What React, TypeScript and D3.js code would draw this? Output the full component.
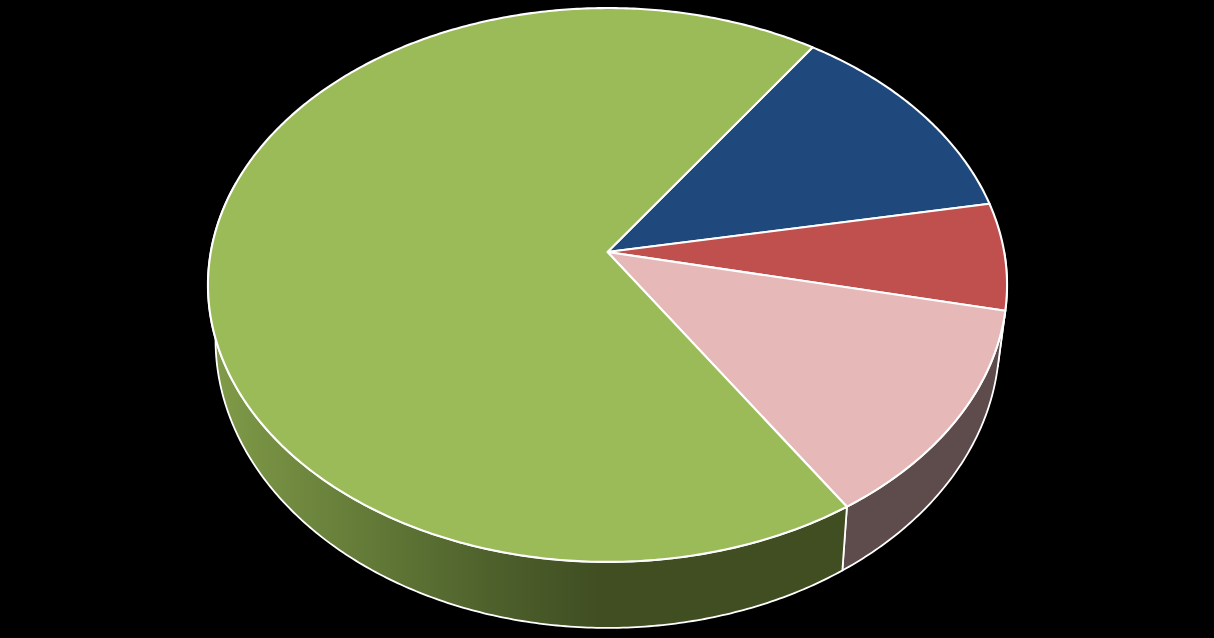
import React from "react";
import * as d3 from "d3";

const categories = ["A", "B", "C", "D"];
const values = [12.5, 6.25, 12.5, 68.75];
const topColors = ["#1f497d", "#c0504d", "#e6b9b8", "#9bbb59"];
const wallColors = ["#0f2440", "#602826", "#5d4c4b", "url(#greenWall)"];
const START_DEG = 34.6;

const W = 1214;
const H = 638;
const CX = 607.5;
const Y0 = 252;
const A = 396.7;
const B = 273;
const PERSP = -0.1191;
const WALL_SCALE_X = 0.981;
const WALL_SCALE_Y = 1.04;
const WALL_Y0 = 305.6;

const project = (a: number): [number, number] => {
  const u = Math.sin(a);
  const v = -Math.cos(a);
  const w = 1 + PERSP * v;
  return [CX + (A * u) / w, Y0 + (B * v) / w];
};
const projectLow = (a: number): [number, number] => {
  const [x, y] = project(a);
  return [CX + WALL_SCALE_X * (x - CX), WALL_Y0 + WALL_SCALE_Y * (y - Y0)];
};
const sample = (a0: number, a1: number) => {
  const n = Math.max(2, Math.ceil(Math.abs(a1 - a0) / 0.01));
  return d3.range(n + 1).map((i) => a0 + ((a1 - a0) * i) / n);
};

const line = d3.line<[number, number]>().curve(d3.curveLinear);
const start = (START_DEG * Math.PI) / 180;
const arcs = d3
  .pie<number>()
  .sort(null)
  .startAngle(start)
  .endAngle(start + 2 * Math.PI)(values);

const WALL_FROM = Math.PI / 2;
const WALL_TO = (285 * Math.PI) / 180;

export default function App() {
  const walls = arcs
    .map((d, i) => {
      const a0 = Math.max(d.startAngle, WALL_FROM);
      const a1 = Math.min(d.endAngle, WALL_TO);
      if (a1 <= a0) return null;
      const pts = sample(a0, a1);
      const path = [...pts.map(project), ...pts.slice().reverse().map(projectLow)];
      return { i, d: line(path) + "Z" };
    })
    .filter(Boolean) as { i: number; d: string }[];

  return (
    <svg
      width={W}
      height={H}
      viewBox={`0 0 ${W} ${H}`}
      style={{ position: "fixed", left: 0, top: 0, background: "#000", display: "block" }}
    >
      <defs>
        <linearGradient id="greenWall" gradientUnits="userSpaceOnUse" x1={208} x2={600} y1={0} y2={0}>
          <stop offset="0" stopColor="#819c49" />
          <stop offset="0.35" stopColor="#677f3a" />
          <stop offset="0.72" stopColor="#4e612c" />
          <stop offset="1" stopColor="#404e22" />
        </linearGradient>
      </defs>
      <rect width={W} height={H} fill="#000" />
      {walls.map((w) => (
        <path
          key={categories[w.i]}
          d={w.d}
          fill={wallColors[w.i]}
          stroke="#fff"
          strokeWidth={1.8}
          strokeLinejoin="round"
        />
      ))}
      {arcs.map((d, i) => {
        const rim = sample(d.startAngle, d.endAngle).map(project);
        const path = line([[CX, Y0], ...rim]) + "Z";
        return (
          <path
            key={categories[i]}
            d={path}
            fill={topColors[i]}
            stroke="#fff"
            strokeWidth={2.1}
            strokeLinejoin="round"
          />
        );
      })}
    </svg>
  );
}
